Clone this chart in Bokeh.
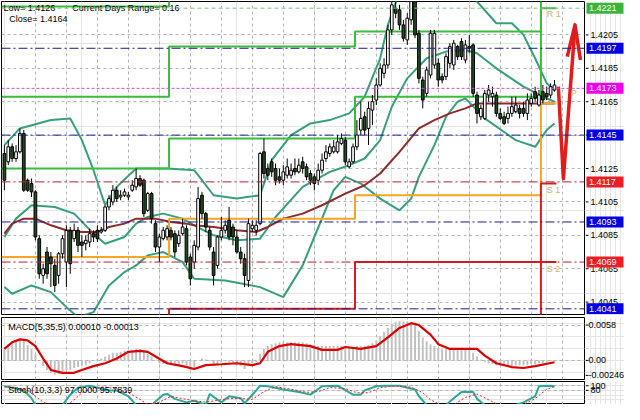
from bokeh.plotting import figure
from bokeh.models import ColumnDataSource, Range1d, FixedTicker, Grid, Span
from bokeh.layouts import column, row
from bokeh.embed import file_html
from bokeh.resources import INLINE
from bokeh.core.properties import value

FONT = "Liberation Sans"

# ---------------- price data (M30 candles) ----------------
opens = [
1.4134, 1.4129, 1.4138, 1.4131, 1.4135, 1.4146, 1.4118, 1.4116, 1.4111, 1.4083,
1.4061, 1.4075, 1.4072, 1.4067, 1.4061, 1.4074, 1.4069, 1.4088, 1.4083, 1.4088,
1.4081, 1.4080, 1.4081, 1.4086, 1.4088, 1.4087, 1.4088, 1.4102, 1.4105, 1.4112,
1.4108, 1.4109, 1.4108, 1.4112, 1.4114, 1.4119, 1.4118, 1.4100, 1.4110, 1.4092,
1.4078, 1.4083, 1.4084, 1.4088, 1.4086, 1.4080, 1.4086, 1.4089, 1.4072, 1.4069,
1.4078, 1.4109, 1.4098, 1.4088, 1.4075, 1.4067, 1.4084, 1.4088, 1.4094, 1.4090,
1.4084, 1.4075, 1.4071, 1.4058, 1.4089, 1.4088, 1.4092, 1.4135, 1.4125, 1.4129,
1.4125, 1.4120, 1.4118, 1.4121, 1.4121, 1.4125, 1.4123, 1.4129, 1.4126, 1.4122,
1.4120, 1.4118, 1.4124, 1.4131, 1.4134, 1.4135, 1.4135, 1.4140, 1.4142, 1.4126,
1.4129, 1.4138, 1.4148, 1.4156, 1.4149, 1.4160, 1.4166, 1.4175, 1.4182, 1.4187,
1.4208, 1.4221, 1.4220, 1.4211, 1.4202, 1.4214, 1.4225, 1.4206, 1.4178, 1.4170,
1.4181, 1.4187, 1.4188, 1.4180, 1.4180, 1.4188, 1.4187, 1.4198, 1.4201, 1.4190,
1.4198, 1.4199, 1.4169, 1.4156, 1.4155, 1.4169, 1.4168, 1.4169, 1.4158, 1.4156,
1.4155, 1.4158, 1.4159, 1.4161, 1.4161, 1.4158, 1.4164, 1.4171, 1.4163, 1.4171,
1.4170, 1.4169, 1.4172]
closes = [
1.4118, 1.4138, 1.4131, 1.4135, 1.4146, 1.4112, 1.4112, 1.4111, 1.4084, 1.4062,
1.4065, 1.4062, 1.4068, 1.4055, 1.4074, 1.4083, 1.4088, 1.4068, 1.4088, 1.4079,
1.4079, 1.4082, 1.4086, 1.4084, 1.4083, 1.4088, 1.4102, 1.4107, 1.4112, 1.4107,
1.4109, 1.4111, 1.4109, 1.4115, 1.4119, 1.4115, 1.4098, 1.4110, 1.4095, 1.4078,
1.4084, 1.4088, 1.4089, 1.4084, 1.4075, 1.4085, 1.4090, 1.4069, 1.4059, 1.4079,
1.4107, 1.4098, 1.4090, 1.4078, 1.4061, 1.4084, 1.4088, 1.4091, 1.4084, 1.4084,
1.4075, 1.4071, 1.4061, 1.4092, 1.4091, 1.4091, 1.4134, 1.4122, 1.4121, 1.4123,
1.4118, 1.4118, 1.4123, 1.4126, 1.4124, 1.4123, 1.4127, 1.4125, 1.4120, 1.4118,
1.4116, 1.4124, 1.4130, 1.4135, 1.4138, 1.4138, 1.4141, 1.4143, 1.4129, 1.4129,
1.4138, 1.4145, 1.4155, 1.4148, 1.4161, 1.4165, 1.4175, 1.4185, 1.4187, 1.4208,
1.4223, 1.4218, 1.4211, 1.4203, 1.4215, 1.4225, 1.4205, 1.4179, 1.4166, 1.4184,
1.4206, 1.4206, 1.4178, 1.4178, 1.4192, 1.4198, 1.4200, 1.4192, 1.4192, 1.4199,
1.4197, 1.4170, 1.4158, 1.4161, 1.4170, 1.4172, 1.4170, 1.4158, 1.4155, 1.4152,
1.4158, 1.4162, 1.4163, 1.4158, 1.4158, 1.4166, 1.4167, 1.4167, 1.4169, 1.4166,
1.4168, 1.4174, 1.4175]
highs = [
1.4139, 1.4142, 1.4140, 1.4139, 1.4149, 1.4148, 1.4119, 1.4119, 1.4112, 1.4085,
1.4068, 1.4078, 1.4075, 1.4071, 1.4075, 1.4085, 1.4091, 1.4090, 1.4092, 1.4090,
1.4085, 1.4085, 1.4089, 1.4088, 1.4091, 1.4090, 1.4103, 1.4109, 1.4115, 1.4114,
1.4112, 1.4113, 1.4111, 1.4118, 1.4125, 1.4121, 1.4119, 1.4111, 1.4111, 1.4094,
1.4086, 1.4090, 1.4091, 1.4090, 1.4088, 1.4088, 1.4095, 1.4091, 1.4074, 1.4082,
1.4114, 1.4111, 1.4099, 1.4090, 1.4078, 1.4085, 1.4096, 1.4094, 1.4102, 1.4092,
1.4088, 1.4078, 1.4074, 1.4095, 1.4094, 1.4094, 1.4135, 1.4143, 1.4128, 1.4131,
1.4128, 1.4125, 1.4127, 1.4131, 1.4128, 1.4131, 1.4131, 1.4132, 1.4128, 1.4124,
1.4122, 1.4128, 1.4134, 1.4139, 1.4140, 1.4142, 1.4145, 1.4146, 1.4144, 1.4131,
1.4140, 1.4154, 1.4165, 1.4159, 1.4165, 1.4169, 1.4179, 1.4188, 1.4191, 1.4211,
1.4225, 1.4225, 1.4223, 1.4214, 1.4218, 1.4228, 1.4228, 1.4208, 1.4180, 1.4186,
1.4208, 1.4208, 1.4191, 1.4182, 1.4194, 1.4200, 1.4202, 1.4199, 1.4203, 1.4202,
1.4205, 1.4200, 1.4171, 1.4163, 1.4172, 1.4175, 1.4174, 1.4171, 1.4161, 1.4159,
1.4162, 1.4168, 1.4168, 1.4163, 1.4165, 1.4170, 1.4170, 1.4174, 1.4172, 1.4175,
1.4174, 1.4176, 1.4178]
lows = [
1.4112, 1.4127, 1.4129, 1.4129, 1.4134, 1.4111, 1.4111, 1.4108, 1.4082, 1.4059,
1.4056, 1.4059, 1.4054, 1.4051, 1.4056, 1.4071, 1.4054, 1.4062, 1.4081, 1.4075,
1.4072, 1.4076, 1.4078, 1.4081, 1.4081, 1.4086, 1.4087, 1.4100, 1.4103, 1.4105,
1.4106, 1.4108, 1.4106, 1.4111, 1.4112, 1.4114, 1.4096, 1.4099, 1.4092, 1.4075,
1.4069, 1.4082, 1.4082, 1.4082, 1.4072, 1.4078, 1.4085, 1.4067, 1.4055, 1.4065,
1.4076, 1.4095, 1.4087, 1.4076, 1.4055, 1.4065, 1.4082, 1.4086, 1.4082, 1.4079,
1.4074, 1.4068, 1.4054, 1.4054, 1.4087, 1.4085, 1.4091, 1.4119, 1.4118, 1.4120,
1.4115, 1.4116, 1.4115, 1.4119, 1.4119, 1.4121, 1.4122, 1.4122, 1.4118, 1.4115,
1.4112, 1.4115, 1.4122, 1.4129, 1.4132, 1.4134, 1.4134, 1.4139, 1.4127, 1.4125,
1.4128, 1.4136, 1.4145, 1.4145, 1.4139, 1.4151, 1.4163, 1.4174, 1.4179, 1.4185,
1.4205, 1.4215, 1.4208, 1.4201, 1.4199, 1.4211, 1.4203, 1.4176, 1.4161, 1.4168,
1.4179, 1.4185, 1.4174, 1.4176, 1.4178, 1.4185, 1.4184, 1.4190, 1.4190, 1.4188,
1.4194, 1.4168, 1.4152, 1.4154, 1.4154, 1.4165, 1.4162, 1.4156, 1.4154, 1.4151,
1.4152, 1.4156, 1.4158, 1.4155, 1.4156, 1.4154, 1.4162, 1.4165, 1.4162, 1.4164,
1.4166, 1.4167, 1.4171]

# Bollinger bands (read as polylines: bar index, price)
upper_b = [0, 4, 12, 17, 20, 23, 26, 29, 34, 42, 49, 54, 60, 66, 69, 74, 79, 84, 89, 93, 97, 99, 102, 119, 122, 127, 131, 134, 137, 140, 142]
upper_p = [1.4139, 1.4149, 1.4154, 1.4155, 1.4142, 1.4124, 1.4103, 1.4114, 1.4125, 1.4125, 1.4124, 1.4109, 1.4107, 1.4109, 1.4130, 1.4145, 1.4152, 1.4154, 1.4158, 1.4168, 1.4191, 1.4211, 1.4231, 1.4231, 1.4225, 1.4212, 1.4212, 1.4205, 1.4191, 1.4176, 1.4172]
mid_b = [0, 3, 7, 13, 18, 23, 26, 31, 34, 37, 41, 46, 49, 54, 60, 66, 70, 77, 84, 89, 93, 97, 100, 104, 109, 114, 119, 122, 127, 134, 139, 142]
mid_p = [1.4084, 1.4095, 1.4103, 1.4102, 1.4098, 1.4086, 1.4080, 1.4084, 1.4092, 1.4096, 1.4098, 1.4095, 1.4091, 1.4085, 1.4082, 1.4083, 1.4096, 1.4114, 1.4123, 1.4127, 1.4131, 1.4142, 1.4162, 1.4179, 1.4191, 1.4195, 1.4196, 1.4194, 1.4185, 1.4174, 1.4168, 1.4165]
low_b = [0, 2, 7, 12, 16, 19, 23, 27, 31, 34, 37, 41, 46, 49, 57, 66, 72, 77, 80, 85, 88, 92, 97, 102, 105, 107, 111, 114, 117, 119, 124, 132, 137, 140, 142]
low_p = [1.4054, 1.4050, 1.4055, 1.4051, 1.4042, 1.4036, 1.4039, 1.4055, 1.4063, 1.4067, 1.4073, 1.4075, 1.4069, 1.4059, 1.4058, 1.4054, 1.4048, 1.4067, 1.4084, 1.4112, 1.4120, 1.4116, 1.4107, 1.4100, 1.4107, 1.4120, 1.4139, 1.4156, 1.4165, 1.4167, 1.4155, 1.4142, 1.4138, 1.4148, 1.4152]
# moving average (brown)
ma_b = [0, 2, 5, 8, 12, 16, 20, 24, 27, 31, 34, 37, 39, 43, 47, 49, 54, 60, 65, 68, 72, 77, 82, 88, 93, 97, 102, 107, 111, 115, 119, 122, 127, 136, 142]
ma_p = [1.4086, 1.4092, 1.4095, 1.4095, 1.4091, 1.4088, 1.4087, 1.4087, 1.4090, 1.4092, 1.4095, 1.4095, 1.4095, 1.4093, 1.4092, 1.4091, 1.4090, 1.4088, 1.4087, 1.4090, 1.4095, 1.4098, 1.4103, 1.4110, 1.4115, 1.4122, 1.4135, 1.4149, 1.4154, 1.4158, 1.4161, 1.4164, 1.4164, 1.4164, 1.4164]

# daily pivot levels (4 days)
day_edges = [-0.75, 42.5, 90.5, 138.5, 142.5]
r3 = [1.4222, 1.4260, 1.4270, 1.4290]
r2 = [1.4168, 1.4198, 1.4207, 1.4260]
r1 = [1.4125, 1.4143, 1.4168, 1.4221]
pp = [1.4072, 1.4095, 1.4109, 1.4164]
s1 = [1.4020, 1.4041, 1.4069, 1.4116]
s2 = [1.4000, 1.4010, 1.4020, 1.4069]

# horizontal level lines
h_levels = [1.4221, 1.4197, 1.4173, 1.4145, 1.4117, 1.4093, 1.4069, 1.4041]
h_kinds = ["green", "blue", "magenta", "blue", "red", "blue", "red", "blue"]

# hand drawn forecast arrow
arrow_b = [143.0, 144.3, 147.3]
arrow_p = [1.4174, 1.4119, 1.4210]
head_b = [145.3, 147.3, 148.7]
head_p = [1.4192, 1.4211, 1.4190]

main_ticks = [1.4045, 1.4065, 1.4085, 1.4105, 1.4125, 1.4145, 1.4165, 1.4185, 1.4205]

# ---------------- MACD(5,35,5) ----------------
macd_hist = [
0.00220, 0.00267, 0.00314, 0.00314, 0.00345, 0.00314, 0.00251, 0.00188, 0.00094, 0.0,
-0.00094, -0.00157, -0.00204, -0.00235, -0.00220, -0.00188, -0.00157, -0.00157, -0.00125, -0.00110,
-0.00094, -0.00078, -0.00047, 0.0, 0.00016, 0.00031, 0.00063, 0.00094, 0.00125, 0.00125,
0.00141, 0.00157, 0.00157, 0.00173, 0.00188, 0.00188, 0.00157, 0.00110, 0.00063, 0.0,
-0.00047, -0.00063, -0.00063, -0.00078, -0.00094, -0.00078, -0.00047, -0.00094, -0.00157, -0.00125,
0.0, 0.00031, 0.00016, -0.00016, -0.00078, -0.00063, -0.00031, -0.00016, -0.00031, -0.00047,
-0.00078, -0.00094, -0.00141, -0.00078, -0.00047, -0.00031, 0.00110, 0.00188, 0.00235, 0.00267,
0.00282, 0.00298, 0.00298, 0.00298, 0.00298, 0.00298, 0.00298, 0.00298, 0.00282, 0.00267,
0.00251, 0.00235, 0.00235, 0.00235, 0.00235, 0.00235, 0.00235, 0.00235, 0.00204, 0.00204,
0.00220, 0.00235, 0.00235, 0.00235, 0.00251, 0.00282, 0.00329, 0.00392, 0.00471, 0.00534,
0.00597, 0.00628, 0.00644, 0.00644, 0.00644, 0.00628, 0.00581, 0.00487, 0.00377, 0.00314,
0.00267, 0.00235, 0.00204, 0.00188, 0.00188, 0.00188, 0.00188, 0.00188, 0.00188, 0.00188,
0.00173, 0.00125, 0.00063, 0.00016, -0.00031, -0.00047, -0.00063, -0.00078, -0.00094, -0.00094,
-0.00094, -0.00094, -0.00078, -0.00078, -0.00078, -0.00078, -0.00063, -0.00063, -0.00047, -0.00047,
-0.00031, -0.00016, -0.00016]
macd_sig_b = [0, 2, 4, 6, 8, 10, 12, 15, 18, 20, 23, 26, 29, 32, 35, 37, 39, 42, 46, 49, 52, 56, 60, 64, 66, 68, 71, 74, 79, 82, 86, 88, 92, 96, 99, 102, 105, 107, 110, 112, 115, 122, 124, 127, 131, 134, 137, 142]
macd_sig = [0.00188, 0.00298, 0.00345, 0.00329, 0.00235, 0.00031, -0.00157, -0.00204, -0.00204, -0.00157,
            -0.00094, -0.00047, 0.00031, 0.00141, 0.00157, 0.00141, 0.00063, -0.00047, -0.00094, -0.00141,
            -0.00078, -0.00063, -0.00047, -0.00078, -0.00047, 0.00141, 0.00235, 0.00267, 0.00235, 0.00173,
            0.00173, 0.00220, 0.00188, 0.00235, 0.00377, 0.00534, 0.00612, 0.00581, 0.00424, 0.00267,
            0.00188, 0.00188, 0.00078, -0.00047, -0.00110, -0.00125, -0.00094, -0.00031]
macd_ticks = [0.0058, 0.0, -0.00246]
macd_tick_labels = ["0.0058", "0.00", "-0.00246"]

# ---------------- Stochastic(10,3,3) ----------------
stoch_b = [0, 2, 5, 7, 8, 9, 12, 14, 15, 17, 19, 22, 24, 27, 29, 32, 34, 36, 38, 41, 42, 44, 47, 49, 52, 53, 56, 58, 61, 62,
           65, 66, 68, 72, 76, 79, 82, 86, 87, 90, 92, 93, 96, 98, 102, 104, 106, 107, 109, 112, 114, 116, 118, 121, 122, 124,
           127, 129, 132, 134, 137, 138, 141, 142]
stoch_k = [98, 91, 80, 47, 18, 5, 3, 10, 18, 62, 91, 100, 91, 80, 80, 55, 18, 5, 18, 62, 65, 44, 29, 36, 18, 65, 29, 55, 47, 25,
           80, 100, 98, 84, 73, 62, 98, 100, 91, 62, 62, 80, 98, 100, 100, 91, 84, 55, 18, 3, 18, 47, 73, 73, 44, 18,
           3, 3, 18, 29, 55, 98, 100, 97]
stoch_sb = [0, 3, 6, 8, 10, 13, 16, 18, 20, 23, 26, 29, 32, 35, 37, 40, 43, 46, 49, 52, 55, 58, 61, 64, 67, 70, 74, 78, 81, 84,
            88, 91, 94, 97, 101, 105, 108, 110, 113, 116, 119, 122, 125, 128, 131, 134, 137, 140, 142]
stoch_d = [96, 93, 80, 55, 30, 12, 15, 40, 70, 92, 95, 86, 70, 42, 20, 30, 55, 45, 36, 30, 38, 45, 45, 42, 75, 96, 85, 72, 75, 92,
           88, 70, 70, 92, 99, 94, 70, 40, 15, 20, 50, 65, 40, 15, 8, 20, 45, 85, 95.8]
stoch_ticks = [100, 80]
stoch_tick_labels = ["100", "80"]

# ---------------- layout ----------------
PW = 585          # price/indicator panel width
AW = 39           # right scale width
X0, X1 = -0.75, 149.75
GRID = "#b4b4b4"
vticks = list(range(8, 150, 8))

BOX = {"green": "#3cb43c", "blue": "#0000e6", "magenta": "#f000f0", "red": "#ee1c24"}
LINE = {"green": ("#8fb88f", "4 3"), "blue": ("#1c1c90", "9 3 2 3"),
        "magenta": ("#d04cd0", "3 2"), "red": ("#b8202a", "9 3 2 3")}


def make_fig(h, yr, top, bottom, grid_ticks):
    p = figure(width=PW, height=h, x_range=Range1d(X0, X1), y_range=yr,
               output_backend="svg", toolbar_location=None,
               x_axis_location=None, y_axis_location=None,
               min_border_left=1, min_border_right=1,
               min_border_top=top, min_border_bottom=bottom)
    p.outline_line_color = "black"
    p.background_fill_color = "white"
    p.border_fill_color = "white"
    p.add_layout(Grid(dimension=0, ticker=FixedTicker(ticks=vticks),
                      grid_line_color=GRID, grid_line_dash="3 3"))
    p.add_layout(Grid(dimension=1, ticker=FixedTicker(ticks=grid_ticks),
                      grid_line_color=GRID, grid_line_dash="3 3"))
    return p


def scale_fig(h, yr, top, bottom, ticks, labels, lx=5):
    a = figure(width=AW, height=h, x_range=Range1d(0, AW), y_range=yr,
               output_backend="svg", toolbar_location=None,
               x_axis_location=None, y_axis_location=None,
               min_border_left=0, min_border_right=0,
               min_border_top=top, min_border_bottom=bottom)
    a.outline_line_color = None
    a.background_fill_color = "white"
    a.border_fill_color = "white"
    n = len(ticks)
    a.segment(x0=[0] * n, y0=ticks, x1=[3] * n, y1=ticks, line_color="black", line_width=1)
    a.text(x=[lx] * n, y=ticks, text=labels, text_color="black", text_font=value(FONT),
           text_font_size="9px", text_baseline="middle", text_align="left")
    return a


# ---- main panel ----
yr_main = Range1d(1.40376, 1.4225)
pm = make_fig(316, yr_main, 1, 2, main_ticks)

BB = "#36a07c"
pm.line(upper_b, upper_p, line_color=BB, line_width=2)
pm.line(mid_b, mid_p, line_color=BB, line_width=2)
pm.line(low_b, low_p, line_color=BB, line_width=2)
pm.line(ma_b, ma_p, line_color="#8e2a2a", line_width=2)


def steps(levels):
    xs, ys = [], []
    for k, lv in enumerate(levels):
        xs += [day_edges[k], day_edges[k + 1]]
        ys += [lv, lv]
    return xs, ys


for lv_list, col in [(r3, "#3dbb3d"), (r2, "#3dbb3d"), (r1, "#3dbb3d"),
                     (pp, "#f5a623"), (s1, "#dd1c1c"), (s2, "#dd1c1c")]:
    xs, ys = steps(lv_list)
    pm.line(xs, ys, line_color=col, line_width=2)

for lv, kind in zip(h_levels, h_kinds):
    c, d = LINE[kind]
    pm.add_layout(Span(location=lv, dimension="width", line_color=c, line_dash=d, line_width=1))

# candles
top = [max(o, c) for o, c in zip(opens, closes)]
bot = [min(o, c) for o, c in zip(opens, closes)]
fill = ["white" if c >= o else "#214a22" for o, c in zip(opens, closes)]
src = ColumnDataSource(dict(x=list(range(len(opens))), h=highs, l=lows, top=top, bot=bot, fill=fill))
pm.segment("x", "h", "x", "l", source=src, line_color="black", line_width=1)
pm.vbar(x="x", width=0.7, top="top", bottom="bot", fill_color="fill",
        line_color="black", line_width=1, source=src)

# forecast arrow
pm.line(arrow_b, arrow_p, line_color="#e21b1b", line_width=3.5, line_join="round")
pm.line(head_b, head_p, line_color="#e21b1b", line_width=3.5, line_join="round")

# pivot labels
PIV = "#d8b060"
pm.text(x=[140.0, 146.2, 140.0, 140.0], y=[1.42176, 1.4170, 1.4112, 1.4065],
        text=["R 1", "P", "S 1", "S 2"], text_color=PIV, text_font=value(FONT),
        text_font_size="9px", text_baseline="middle", text_align="left")

# info texts
pm.text(x=[-0.25, 17.5, 1.25], y=[1.42212, 1.42212, 1.42148],
        text=["Low= 1.4126", "Current Days Range= 0.16", "Close= 1.4164"],
        text_color="black", text_font=value(FONT), text_font_size="9px",
        text_baseline="middle", text_align="left")

am = scale_fig(316, yr_main, 1, 2, main_ticks, [f"{t:.4f}" for t in main_ticks], lx=5)
k = len(h_levels)
am.rect(x=[19.5] * k, y=h_levels, width=37, height=11, height_units="screen",
        fill_color=[BOX[t] for t in h_kinds], line_color=None)
am.text(x=[3.5] * k, y=h_levels, text=[f"{lv:.4f}" for lv in h_levels], text_color="white",
        text_font=value(FONT), text_font_size="9px", text_baseline="middle", text_align="left")

# ---- MACD panel ----
MT, MB = 0.00705, -0.00314
yr_macd = Range1d(MB, MT)
pmacd = make_fig(64, yr_macd, 1, 1, [0.0, 0.0058])
pmacd.vbar(x=list(range(len(macd_hist))), top=macd_hist, bottom=0, width=0.5,
           fill_color="#c0c0c0", line_color=None)
pmacd.line(macd_sig_b, macd_sig, line_color="#dd0000", line_width=2.2)
pmacd.text(x=[1.0], y=[MT - 0.154 * (MT - MB)], text=["MACD(5,35,5) 0.00010 -0.00013"],
           text_color="black", text_font=value(FONT), text_font_size="9px",
           text_baseline="middle", text_align="left")
amacd = scale_fig(64, yr_macd, 1, 1, macd_ticks, macd_tick_labels, lx=3)

# ---- Stochastic panel ----
ST, SB = 118, 20
yr_st = Range1d(SB, ST)
pst = make_fig(24, yr_st, 1, 0, stoch_ticks)
pst.line(stoch_b, stoch_k, line_color="#2aa89a", line_width=2)
pst.line(stoch_sb, stoch_d, line_color="#ee2222", line_width=1, line_dash="2 2")
pst.text(x=[1.0], y=[ST - 0.38 * (ST - SB)], text=["Stoch(10,3,3) 97.0000 95.7839"],
         text_color="black", text_font=value(FONT), text_font_size="9px",
         text_baseline="middle", text_align="left")
ast = scale_fig(24, yr_st, 1, 0, stoch_ticks, stoch_tick_labels, lx=5)

layout = column(row(pm, am, spacing=0), row(pmacd, amacd, spacing=0),
                row(pst, ast, spacing=0), spacing=0)
open("out.html", "w").write(file_html(layout, INLINE))
